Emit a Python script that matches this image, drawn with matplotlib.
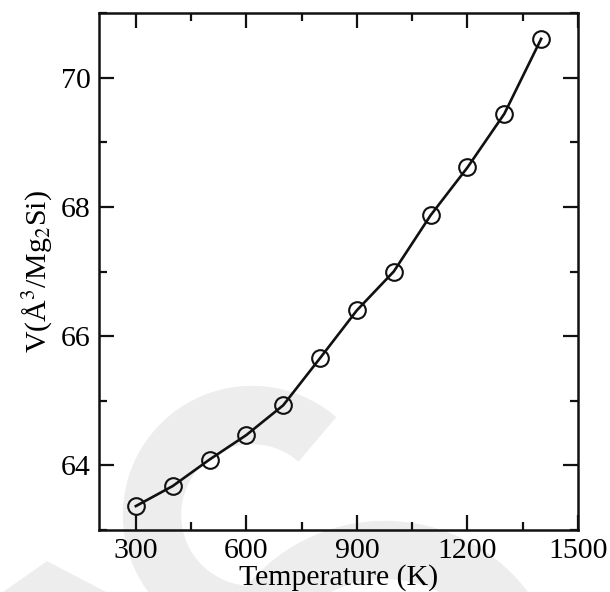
import numpy as np
import matplotlib.pyplot as plt
from matplotlib.patches import Arc, Polygon
from matplotlib.ticker import MultipleLocator

# temperature (K) and volume per Mg2Si (A^3)
temperature = [300, 400, 500, 600, 700, 800, 900, 1000, 1100, 1200, 1300, 1400]
volume = [63.37, 63.68, 64.09, 64.47, 64.93, 65.66, 66.40, 67.00, 67.87, 68.61, 69.44, 70.60]

plt.rcParams['font.family'] = ['Liberation Serif', 'DejaVu Serif']
plt.rcParams['mathtext.fontset'] = 'stix'

W, H = 610, 592
fig = plt.figure(figsize=(W / 100, H / 100), dpi=100)

# faint watermark in the background (figure pixel coords, y from top)
wm = '#ededed'
def px(x, y):
    return (x / W, 1 - y / H)

tr = fig.transFigure
fig.patches.append(Arc(px(252, 515), 200 / W, 200 / H, theta1=50, theta2=275,
                       lw=42, color=wm, transform=tr, zorder=-5))
fig.patches.append(Arc(px(385, 700), 300 / W, 300 / H, theta1=25, theta2=150,
                       lw=42, color=wm, transform=tr, zorder=-5))
fig.patches.append(Polygon([px(0, 595), px(47, 562), px(120, 600), px(0, 600)],
                           closed=True, color=wm, transform=tr, zorder=-5))

ax = fig.add_axes([99 / W, 1 - 530 / H, (578 - 99) / W, (530 - 13) / H])
ax.set_facecolor('none')
ax.set_zorder(1)

ax.plot(temperature, volume, '-', color='#111111', lw=1.9)
ax.plot(temperature, volume, 'o', ms=12, mfc='none', mec='#111111', mew=1.5)

ax.set_xlim(200, 1500)
ax.set_ylim(63, 71)
ax.xaxis.set_major_locator(MultipleLocator(300))
ax.xaxis.set_minor_locator(MultipleLocator(150))
ax.yaxis.set_major_locator(MultipleLocator(2))
ax.yaxis.set_minor_locator(MultipleLocator(1))

ax.tick_params(which='both', direction='in', top=True, right=True,
               width=1.6, color='#111111', labelsize=21.5, pad=6)
ax.tick_params(which='major', length=11)
ax.tick_params(which='minor', length=6)
for s in ax.spines.values():
    s.set_linewidth(1.8)
    s.set_color('#111111')

ax.set_xlabel('Temperature (K)', fontsize=21.5, labelpad=0)
ax.set_ylabel('V(Å$^{3}$/Mg$_{2}$Si)', fontsize=21.5, labelpad=4)

fig.savefig('out.png', dpi=100)
